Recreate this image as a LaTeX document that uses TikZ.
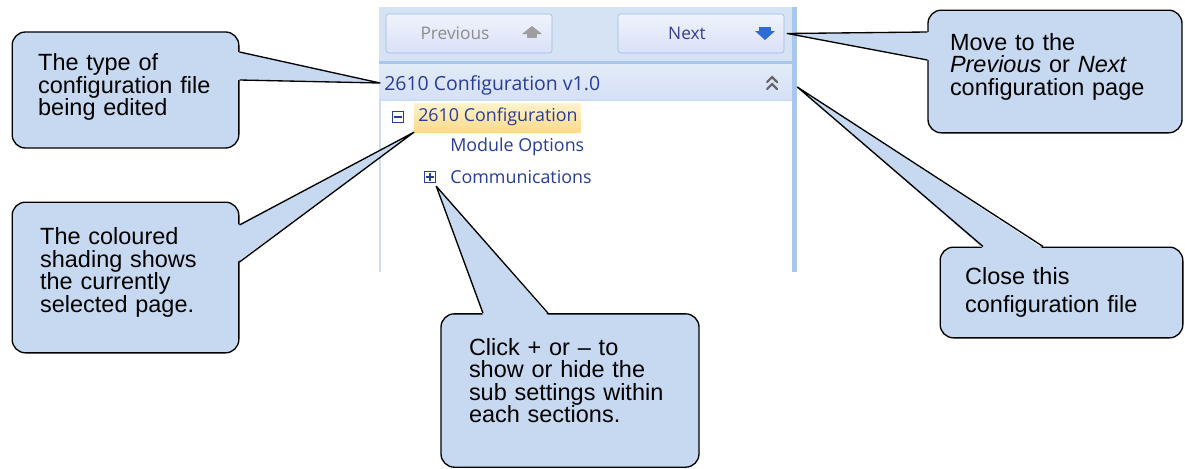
\documentclass[tikz,border=0pt]{standalone}
\usepackage{fontspec}
\setmainfont{Liberation Sans}
\newfontfamily\uifont{Open Sans}
\usetikzlibrary{calc}
\definecolor{callblue}{RGB}{198,217,241}
\definecolor{panelblue}{RGB}{214,227,244}
\definecolor{btnedge}{RGB}{158,184,221}
\definecolor{uiblue}{RGB}{40,62,150}
\definecolor{nextblue}{RGB}{58,62,140}
\definecolor{arrowblue}{RGB}{45,108,214}
\definecolor{edgeblue}{RGB}{168,198,238}
\definecolor{hlyellow}{RGB}{252,218,138}
\definecolor{hlpale}{RGB}{255,243,205}

\begin{document}
\begin{tikzpicture}[x=0.75pt, y=-0.75pt,
  callbox/.style={draw, fill=callblue, rounded corners=10pt, line width=1pt, align=left, inner ysep=0pt, font={\fontsize{17.6}{16.9}\selectfont}},
  lift/.style={execute at end node={\endgraf\vspace*{#1}}},
  pointer/.style={line width=1pt, line join=round},
  btn/.style={draw=btnedge, rounded corners=2pt, top color=panelblue!40, bottom color=panelblue!90!blue!60, minimum width=124.5pt, minimum height=29.25pt, inner sep=0pt},
  uitext/.style={inner sep=0pt, text=uiblue, font={\uifont\fontsize{13.4}{15}\selectfont}},
  expander/.style={draw=uiblue, fill=white, line width=0.9pt, minimum size=8.5pt, inner sep=0pt}
]
  \useasboundingbox (0,0) rectangle (1185,468);

  % Screenshot: navigation buttons
  \fill[panelblue] (379,7) rectangle (795,61);
  \node[btn] (prevbtn) at (469,33.5) {};
  \node[font={\uifont\fontsize{13}{15}\selectfont}, text=black!45, inner sep=0pt] (prevlbl) at (455,33) {Previous};
  \fill[black!38] (532,26) -- (542,34) -- (522,34) -- cycle;
  \fill[black!38] (527,34) rectangle (537,38);
  \node[btn] (nextbtn) at (701,33.5) {};
  \node[font={\uifont\fontsize{13}{15}\selectfont}, text=nextblue, inner sep=0pt] (nextlbl) at (687,33) {Next};
  \fill[arrowblue] (759,27) rectangle (771,31);
  \fill[arrowblue] (755,31) -- (775,31) -- (765,40) -- cycle;
  \fill[edgeblue] (379,61) rectangle (795,64);

  % Screenshot: header of the configuration file
  \node[top color=panelblue!70, bottom color=panelblue!95!blue!80, minimum width=312pt, minimum height=27pt, inner sep=0pt] (hdrbar) at (587,82) {};
  \node[uitext, anchor=west, font={\uifont\fontsize{14.6}{17}\selectfont}] (hdrtext) at (384,85) {2610 Configuration v1.0};
  \draw[black!60, line width=1.6pt, line cap=round] (767,82) -- (772,77) -- (777,82) (767,89) -- (772,84) -- (777,89);

  % Screenshot: tree of pages
  \fill[white] (379,100) rectangle (792,272);
  \draw[edgeblue!60, line width=0.8pt] (792,100) -- (380,100) -- (380,272);
  \fill[edgeblue] (792,7) rectangle (797,272);
  \node[top color=hlpale, bottom color=hlyellow, minimum width=125pt, minimum height=21.75pt, inner sep=0pt] (selhl) at (497.5,117.5) {};
  \node[expander] (minusbox) at (398,117) {};
  \draw[uiblue, line width=0.9pt] ($(minusbox.west)+(2.5,0)$) -- ($(minusbox.east)+(-2.5,0)$);
  \node[uitext, anchor=west] (rootitem) at (418,117) {2610 Configuration};
  \node[uitext, anchor=west] (moditem) at (450,147) {Module Options};
  \node[expander] (plusbox) at (430,177) {};
  \draw[uiblue, line width=0.9pt] ($(plusbox.west)+(2.5,0)$) -- ($(plusbox.east)+(-2.5,0)$) ($(plusbox.north)+(0,2.5)$) -- ($(plusbox.south)+(0,-2.5)$);
  \node[uitext, anchor=west] (commitem) at (450,177) {Communications};

  % Callouts
  \node[callbox, lift=4.5pt, minimum width=170pt, minimum height=87pt, text width=131pt, inner xsep=19.5pt] (typebox) at (125.5,90)
    {The type of\\configuration file\\being edited};
  \node[callbox, lift=7.5pt, minimum width=170pt, minimum height=113pt, text width=128pt, inner xsep=21pt] (shadebox) at (125.5,277.5)
    {The coloured\\shading shows\\the currently\\selected page.};
  \node[callbox, lift=15pt, minimum width=193.5pt, minimum height=115pt, text width=151.5pt, inner xsep=21pt] (clickbox) at (570,390.5)
    {Click + or – to\\show or hide the\\sub settings within\\each sections.};
  \node[callbox, lift=7.5pt, minimum width=190.5pt, minimum height=92pt, text width=157.5pt, inner xsep=16.5pt] (movebox) at (1055,71.5)
    {Move to the\\\textit{Previous} or \textit{Next}\\configuration page};
  \node[callbox, minimum width=182pt, minimum height=68pt, text width=144.5pt, inner xsep=18.75pt, font={\fontsize{17.6}{21}\selectfont}] (closebox) at (1061.5,292.5)
    {Close this\\configuration file};

  % Pointer tips
  \coordinate (typetip) at ($(hdrtext.west)+(-4,-2)$);
  \coordinate (shadetip) at (selhl.south west);
  \coordinate (clicktip) at ($(plusbox.south east)+(0,3)$);
  \coordinate (movetip) at ($(nextbtn.east)+(3,0)$);
  \coordinate (closetip) at ($(hdrbar.east)+(2,5)$);

  % Pointers
  \fill[callblue] ($(typebox.east)+(-2,-38)$) -- (typetip) -- ($(typebox.east)+(-2,-10)$) -- cycle;
  \draw[pointer] ($(typebox.east)+(0,-38)$) -- (typetip) -- ($(typebox.east)+(0,-10)$);
  \fill[callblue] ($(shadebox.east)+(-2,-52.5)$) -- (shadetip) -- ($(shadebox.east)+(-2,-15.5)$) -- cycle;
  \draw[pointer] ($(shadebox.east)+(0,-52.5)$) -- (shadetip) -- ($(shadebox.east)+(0,-15.5)$);
  \fill[callblue] ($(clickbox.north)+(-87,2)$) -- (clicktip) -- ($(clickbox.north)+(-22,2)$) -- cycle;
  \draw[pointer] ($(clickbox.north)+(-87,0)$) -- (clicktip) -- ($(clickbox.north)+(-22,0)$);
  \fill[callblue] ($(movebox.west)+(2,-39.5)$) -- (movetip) -- ($(movebox.west)+(2,-11.5)$) -- cycle;
  \draw[pointer] ($(movebox.west)+(0,-39.5)$) -- (movetip) -- ($(movebox.west)+(0,-11.5)$);
  \fill[callblue] ($(closebox.north)+(-78.5,2)$) -- (closetip) -- ($(closebox.north)+(-18.5,2)$) -- cycle;
  \draw[pointer] ($(closebox.north)+(-78.5,0)$) -- (closetip) -- ($(closebox.north)+(-18.5,0)$);
\end{tikzpicture}
\end{document}
